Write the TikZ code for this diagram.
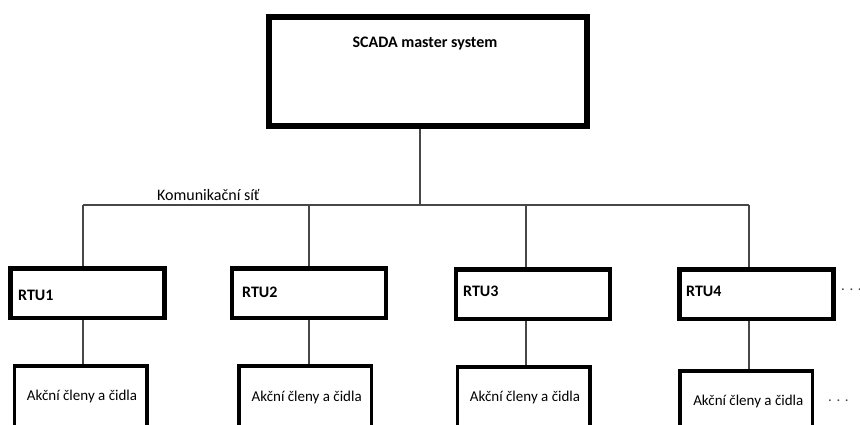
\documentclass[tikz,border=0pt]{standalone}
\usepackage{fontspec}
\setmainfont{Carlito}
\begin{document}
\begin{tikzpicture}[x=1pt,y=-1pt,
  masterbox/.style={draw=black,line width=6pt,minimum width=318pt,minimum height=109pt,inner sep=0pt},
  rtubox/.style={draw=black,line width=4.5pt,minimum width=154pt,minimum height=49.5pt,inner sep=0pt},
  fieldbox/.style={draw=black,line width=3.5pt,minimum width=132.5pt,minimum height=72pt,inner sep=0pt},
  boldlabel/.style={font=\fontsize{16}{18}\selectfont\bfseries,inner sep=0pt},
  plainlabel/.style={font=\fontsize{15}{17}\selectfont,inner sep=0pt},
  link/.style={draw=black!72,line width=1.3pt}]
\useasboundingbox (0,0) rectangle (860,424);
\clip (0,0) rectangle (860,424);

% master station
\node[masterbox] (master) at (428,71.5) {};
\node[boldlabel,anchor=base] (mastertxt) at (425,47.5) {SCADA master system};

% remote terminal units
\node[rtubox] (r1) at (87.5,293) {};
\node[rtubox] (r2) at (309,293) {};
\node[rtubox] (r3) at (533,294) {};
\node[rtubox] (r4) at (756.5,294) {};
\node[boldlabel,anchor=base west] (r1t) at (18,300) {RTU1};
\node[boldlabel,anchor=base west] (r2t) at (242,297.3) {RTU2};
\node[boldlabel,anchor=base west] (r3t) at (463,296) {RTU3};
\node[boldlabel,anchor=base west] (r4t) at (686,296) {RTU4};

% actuators and sensors (boxes run past the lower edge)
\node[fieldbox,anchor=north] (a1) at (80.5,364.25) {};
\node[fieldbox,anchor=north] (a2) at (305,364.25) {};
\node[fieldbox,anchor=north] (a3) at (523.5,365.25) {};
\node[fieldbox,anchor=north] (a4) at (746,369.25) {};
\node[plainlabel,anchor=base] (a1t) at (82,400.5) {Akční členy a čidla};
\node[plainlabel,anchor=base] (a2t) at (306.7,401) {Akční členy a čidla};
\node[plainlabel,anchor=base] (a3t) at (525,401.5) {Akční členy a čidla};
\node[plainlabel,anchor=base] (a4t) at (748.3,405.5) {Akční členy a čidla};

% continuation marks
\node[plainlabel,anchor=base west,text=black!75] (more1) at (841,290.5) {. . .};
\node[plainlabel,anchor=base west,text=black!75] (more2) at (828,401.5) {. . .};

% communication network
\coordinate (tap) at (420,205);
\coordinate (d1) at (83,205);
\coordinate (d2) at (309,205);
\coordinate (d3) at (526,205);
\coordinate (d4) at (749,205);
\node[plainlabel,font=\fontsize{16}{18}\selectfont,anchor=base west] (net) at (157,200) {Komunikační síť};

\draw[link] (master.south -| tap) -- (tap);
\draw[link] (d1) -- (d4);
\draw[link] (d1) -- (d1 |- r1.north);
\draw[link] (d2) -- (d2 |- r2.north);
\draw[link] (d3) -- (d3 |- r3.north);
\draw[link] (d4) -- (d4 |- r4.north);
\draw[link] (d1 |- r1.south) -- (d1 |- a1.north);
\draw[link] (d2 |- r2.south) -- (d2 |- a2.north);
\draw[link] (d3 |- r3.south) -- (d3 |- a3.north);
\draw[link] (d4 |- r4.south) -- (d4 |- a4.north);
\end{tikzpicture}
\end{document}
